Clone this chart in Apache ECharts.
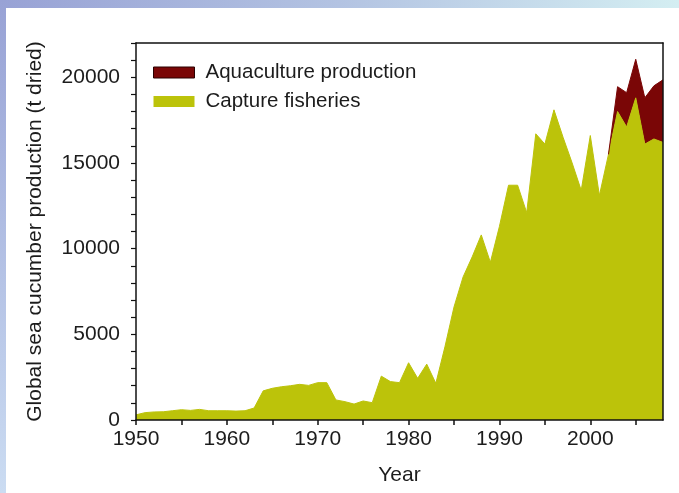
<!DOCTYPE html>
<html>
<head>
<meta charset="utf-8">
<script src="https://cdn.jsdelivr.net/npm/echarts@6/dist/echarts.min.js"></script>
<style>
html,body{margin:0;padding:0;background:#fff;}
#chart{width:679px;height:493px;}
</style>
</head>
<body>
<div id="chart"></div>
<script>
var years = [];
for (var y = 1950; y <= 2008; y++) years.push(String(y));

var captureFisheries = [
  300, 430, 470, 480, 540, 600, 560, 620, 540, 540,
  540, 520, 540, 700, 1700, 1850, 1940, 2000, 2080, 2020,
  2180, 2180, 1170, 1070, 930, 1110, 1010, 2560, 2240, 2180,
  3340, 2430, 3260, 2140, 4270, 6600, 8350, 9520, 10800, 9200,
  11300, 13700, 13700, 12100, 16700, 16100, 18100, 16500, 15000, 13400,
  16600, 13100, 15500, 18000, 17100, 18800, 16100, 16400, 16200
];

var aquacultureProduction = [
  null, null, null, null, null, null, null, null, null, null,
  null, null, null, null, null, null, null, null, null, null,
  null, null, null, null, null, null, null, null, null, null,
  null, null, null, null, null, null, null, null, null, null,
  null, null, null, null, null, null, null, null, null, null,
  null, null, 0, 1450, 2000, 2250, 2700, 3100, 3650
];

var seriesNames = ['Aquaculture production', 'Capture fisheries'];
var yAxisTitle = 'Global sea cucumber production (t dried)';
var xAxisTitle = 'Year';

var FONT = "'Liberation Sans', Arial, sans-serif";
var TXT = '#1c1c1c';

var chart = echarts.init(document.getElementById('chart'), null, {renderer: 'canvas'});
chart.setOption({
  animation: false,
  backgroundColor: '#ffffff',
  graphic: [
    {type: 'rect', z: -10, shape: {x: 0, y: 0, width: 679, height: 8},
     style: {fill: new echarts.graphic.LinearGradient(0, 0, 1, 0, [
       {offset: 0, color: '#98a2d5'}, {offset: 0.5, color: '#b3c3e2'}, {offset: 1, color: '#d4eef2'}])}},
    {type: 'rect', z: -10, shape: {x: 0, y: 0, width: 6, height: 493},
     style: {fill: new echarts.graphic.LinearGradient(0, 0, 0, 1, [
       {offset: 0, color: '#98a2d5'}, {offset: 1, color: '#cbdcf2'}])}}
  ],
  legend: {
    orient: 'vertical',
    left: 153,
    top: 62,
    padding: 0,
    itemGap: 8,
    itemWidth: 41,
    itemHeight: 11,
    data: [
      {name: seriesNames[0], icon: 'rect', itemStyle: {color: '#7a0606', borderColor: '#2a0000', borderWidth: 1}},
      {name: seriesNames[1], icon: 'rect', itemStyle: {color: '#bcc30a', borderWidth: 0}}
    ],
    textStyle: {fontFamily: FONT, fontSize: 20.5, color: TXT, padding: [0, 0, 0, 6]}
  },
  grid: {left: 136, right: 16, top: 43, bottom: 73, containLabel: false},
  xAxis: [
    {
      type: 'category',
      data: years,
      boundaryGap: false,
      z: 5,
      axisLine: {show: true, onZero: false, lineStyle: {color: '#111', width: 1.5}},
      axisTick: {show: true, interval: 4, length: 5, lineStyle: {color: '#111', width: 1.5}},
      axisLabel: {interval: 9, margin: 9, fontFamily: FONT, fontSize: 21, color: TXT},
      splitLine: {show: false},
      name: xAxisTitle,
      nameLocation: 'middle',
      nameGap: 45,
      nameTextStyle: {fontFamily: FONT, fontSize: 21, color: TXT}
    },
    {
      type: 'category',
      data: years,
      boundaryGap: false,
      position: 'top',
      z: 5,
      axisLine: {show: true, onZero: false, lineStyle: {color: '#111', width: 1.5}},
      axisTick: {show: false},
      axisLabel: {show: false},
      splitLine: {show: false}
    }
  ],
  yAxis: [
    {
      type: 'value',
      min: 0,
      max: 22000,
      interval: 1000,
      z: 5,
      axisLine: {show: true, onZero: false, lineStyle: {color: '#111', width: 1.5}},
      axisTick: {show: true, length: 5, lineStyle: {color: '#111', width: 1.2}},
      axisLabel: {
        margin: 16, fontFamily: FONT, fontSize: 21, color: TXT,
        formatter: function (v) { return (v % 5000 === 0) ? String(v) : ''; }
      },
      splitLine: {show: false},
      name: yAxisTitle,
      nameLocation: 'middle',
      nameGap: 90,
      nameRotate: 90,
      nameTextStyle: {fontFamily: FONT, fontSize: 21, color: TXT}
    },
    {
      type: 'value',
      min: 0,
      max: 22000,
      interval: 1000,
      position: 'right',
      z: 5,
      axisLine: {show: true, onZero: false, lineStyle: {color: '#111', width: 1.5}},
      axisTick: {show: false},
      axisLabel: {show: false},
      splitLine: {show: false}
    }
  ],
  series: [
    {
      name: seriesNames[1],
      type: 'line',
      stack: 'total',
      data: captureFisheries,
      symbol: 'none',
      smooth: false,
      lineStyle: {width: 1, color: '#bcc30a'},
      itemStyle: {color: '#bcc30a'},
      areaStyle: {color: '#bcc30a', opacity: 1},
      z: 2
    },
    {
      name: seriesNames[0],
      type: 'line',
      stack: 'total',
      data: aquacultureProduction,
      symbol: 'none',
      smooth: false,
      connectNulls: false,
      lineStyle: {width: 1, color: '#7a0606'},
      itemStyle: {color: '#7a0606'},
      areaStyle: {color: '#7a0606', opacity: 1},
      z: 2
    }
  ]
});
</script>
</body>
</html>
